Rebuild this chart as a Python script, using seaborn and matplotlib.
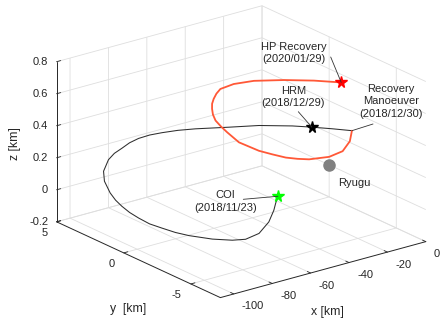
import numpy as np
import matplotlib
matplotlib.use("Agg")
import matplotlib.pyplot as plt
import seaborn as sns
from matplotlib.lines import Line2D
from mpl_toolkits.mplot3d import proj3d

# ---- trajectory data, Ryugu-centred frame [km] ----
# conjunction drift: COI -> far turn-around -> HRM -> recovery manoeuvre
drift_x = [-30.2, -34.9, -39.3, -46.8, -56.8, -66.6, -74.9, -85.3, -94.7,
           -99.3, -103.1, -104.3, -105.0, -105.6, -106.0, -106.35, -106.6,
           -106.9, -106.95, -106.9, -106.7, -106.4, -105.9, -105.2, -101.9,
           -97.5, -91.0, -83.6, -69.0, -56.1, -41.5, -33.5, -25.5, -18.2]
drift_y = [-0.5, -1.0, -1.5, -2.2, -2.9, -3.3, -3.5, -3.5, -3.1,
           -2.75, -2.3, -1.54, -0.83, -0.24, 0.28, 0.70, 1.07,
           1.45, 1.51, 1.15, 0.74, 0.22, -0.28, -0.85, -1.2,
           -1.5, -1.75, -2.0, -2.4, -2.8, -3.2, -3.5, -3.9, -4.3]
drift_z = [-0.078, -0.089, -0.097, -0.118, -0.130, -0.119, -0.090, -0.049, -0.012,
           0.009, 0.031, 0.032, 0.043, 0.057, 0.077, 0.100, 0.132,
           0.191, 0.251, 0.337, 0.392, 0.443, 0.495, 0.542, 0.566,
           0.578, 0.581, 0.576, 0.554, 0.538, 0.503, 0.481, 0.460, 0.440]

# return leg to the home position
recov_x = [-18.2, -23.0, -30.1, -37.4, -46.3, -50.6, -54.4, -58.2, -61.8, -66.9,
           -68.2, -68.4, -68.2, -67.1, -65.6, -63.7, -61.4, -58.5, -55.6, -50.0,
           -43.4, -34.1, -25.8, -19.3]
recov_y = [-4.3, -4.83, -5.31, -5.35, -5.13, -4.88, -4.55, -4.11, -3.61, -2.85,
           -2.16, -1.73, -1.29, -0.94, -0.66, -0.39, -0.18, 0.03, 0.15, -0.04,
           -0.6, -1.51, -2.56, -3.66]
recov_z = [0.44, 0.41, 0.39, 0.38, 0.385, 0.3925, 0.40, 0.415, 0.43, 0.47,
           0.51, 0.53, 0.55, 0.57, 0.59, 0.605, 0.62, 0.635, 0.65, 0.67,
           0.69, 0.70, 0.71, 0.72]

# events (index into the trajectory arrays)
coi_idx = 0                  # drift start
hrm_idx = 31                 # on the drift leg
rm_idx = len(drift_x) - 1    # end of drift leg
hp_idx = len(recov_x) - 1    # end of return leg
ryugu_xyz = (0.0, 0.0, 0.0)

x_ticks = [-100, -80, -60, -40, -20, 0]
y_ticks = [-5, 0, 5]
z_ticks = [-0.2, 0, 0.2, 0.4, 0.6, 0.8]
z_ticklabels = ["-0.2", "0", "0.2", "0.4", "0.6", "0.8"]
x_lim, y_lim, z_lim = (-107, 0), (-7.2, 5), (-0.2, 0.8)

# ---- style ----
sns.set_theme(style="white")
plt.rcParams.update({
    "font.family": ["Liberation Sans", "DejaVu Sans"],
    "axes.unicode_minus": False,
    "grid.color": "#dedede",
    "grid.linewidth": 0.6,
    "axes.edgecolor": "#262626",
    "axes.linewidth": 0.7,
    "xtick.color": "#262626",
    "ytick.color": "#262626",
    "xtick.major.width": 0.6,
    "ytick.major.width": 0.6,
})
TXT = "#262626"
FS = 8.0

W, H = 440, 321
fig = plt.figure(figsize=(W / 100, H / 100), dpi=100)
fig.patch.set_facecolor("white")
ax = fig.add_axes([0, 0, 1, 1], projection="3d", proj_type="ortho")
ax.computed_zorder = False
ax.set_xlim(*x_lim)
ax.set_ylim(*y_lim)
ax.set_zlim(*z_lim)
ax.set_box_aspect((1.512, 1.571, 1.0))
ax.view_init(elev=20.8, azim=-127.5)
ax.set_xticks(x_ticks)
ax.set_yticks(y_ticks)
ax.set_zticks(z_ticks)
for a in ("x", "y", "z"):
    ax.tick_params(axis=a, labelcolor=(1, 1, 1, 0), pad=0)
for axis in (ax.xaxis, ax.yaxis, ax.zaxis):
    axis.set_pane_color((1, 1, 1, 0))
    axis.line.set_color("#262626")
    axis.line.set_linewidth(0.7)
    axis._axinfo["tick"]["inward_factor"] = 0.0
    axis._axinfo["tick"]["outward_factor"] = 0.25
ax.grid(True)
ax.set_xlabel("")
ax.set_ylabel("")
ax.set_zlabel("")

# ---- trajectories and markers ----
ax.plot(drift_x, drift_y, drift_z, color="#2e2e2e", lw=0.75, zorder=2)
ax.plot(recov_x, recov_y, recov_z, color="#ff5837", lw=1.3, zorder=2,
        solid_joinstyle="round")
ax.plot([recov_x[hp_idx]], [recov_y[hp_idx]], [recov_z[hp_idx]], marker="*",
        ms=8.5, color="#ff0000", ls="none", zorder=4)
ax.plot([drift_x[hrm_idx]], [drift_y[hrm_idx]], [drift_z[hrm_idx]], marker="*",
        ms=8.5, color="black", ls="none", zorder=4)
ax.plot([drift_x[coi_idx]], [drift_y[coi_idx]], [drift_z[coi_idx]], marker="*",
        ms=8.5, color="#00ff00", ls="none", zorder=4)
ax.plot([ryugu_xyz[0]], [ryugu_xyz[1]], [ryugu_xyz[2]], marker="o", ms=8,
        color="#808080", ls="none", zorder=3)


def project(points):
    pts = np.asarray(points, dtype=float)
    X, Y, _ = proj3d.proj_transform(pts[:, 0], pts[:, 1], pts[:, 2], ax.get_proj())
    disp = ax.transData.transform(np.column_stack([X, Y]))
    return np.column_stack([disp[:, 0], H - disp[:, 1]])


# place the plot box on the canvas (pixel coords, y down)
box_pts = [(x_lim[0], y_lim[0], z_lim[0]), (x_lim[1], y_lim[0], z_lim[0]),
           (x_lim[0], y_lim[1], z_lim[0]), (x_lim[0], y_lim[1], z_lim[1]),
           (x_lim[1], y_lim[1], z_lim[1])]
box_px = np.array([(219.5, 297.5), (426.0, 240.5), (56.7, 223.0),
                   (56.7, 62.0), (262.5, 5.5)])
fig.canvas.draw()
bb = ax.get_position()
S0 = bb.width * W
c0 = np.array([(bb.x0 + bb.width / 2) * W, H - (bb.y0 + bb.height / 2) * H])
g = (project(box_pts) - c0) / S0
gm, tm = g.mean(0), box_px.mean(0)
S = ((g - gm) * (box_px - tm)).sum() / ((g - gm) ** 2).sum()
c = tm - S * gm
ax.set_position([(c[0] - S / 2) / W, (H - c[1] - S / 2) / H, S / W, S / H])
fig.canvas.draw()


def ftext(px, py, s, **kw):
    fig.text(px / W, 1 - py / H, s, color=TXT, **kw)


def leader(p0, p1):
    fig.add_artist(Line2D([p0[0] / W, p1[0] / W], [1 - p0[1] / H, 1 - p1[1] / H],
                          transform=fig.transFigure, color="#333333", lw=0.6))


# tick labels
for v in x_ticks:
    px, py = project([(v, y_lim[0], z_lim[0])])[0]
    ftext(px + 8, py + 12.5, str(v), ha="left", va="center", fontsize=FS)
for v in y_ticks:
    px, py = project([(x_lim[0], v, z_lim[0])])[0]
    ftext(px - 9, py + 11.5, str(v), ha="right", va="center", fontsize=FS)
for v, s in zip(z_ticks, z_ticklabels):
    px, py = project([(x_lim[0], y_lim[1], v)])[0]
    ftext(px - 8.4, py, s, ha="right", va="center", fontsize=FS)

# axis titles
ftext(327.3, 312.5, "x [km]", ha="center", va="center", fontsize=8.8)
ftext(128.3, 309.0, "y  [km]", ha="center", va="center", fontsize=8.8)
ftext(15.0, 143.3, "z [km]", ha="center", va="center", fontsize=8.8, rotation=90)

# event annotations
hp_px = project([(recov_x[hp_idx], recov_y[hp_idx], recov_z[hp_idx])])[0]
hrm_px = project([(drift_x[hrm_idx], drift_y[hrm_idx], drift_z[hrm_idx])])[0]
rm_px = project([(drift_x[rm_idx], drift_y[rm_idx], drift_z[rm_idx])])[0]
coi_px = project([(drift_x[coi_idx], drift_y[coi_idx], drift_z[coi_idx])])[0]

ftext(294.0, 53.0, "HP Recovery\n(2020/01/29)", ha="center", va="center",
      fontsize=FS, linespacing=1.35)
leader((330.7, 57.0), hp_px)
ftext(293.5, 96.8, "HRM\n(2018/12/29)", ha="center", va="center",
      fontsize=FS, linespacing=1.3)
leader((298.3, 111.7), hrm_px)
ftext(391.0, 101.5, "Recovery\nManoeuver\n(2018/12/30)", ha="center",
      va="center", fontsize=FS, linespacing=1.3)
leader((373.0, 124.0), rm_px)
ftext(225.5, 201.3, "COI\n(2018/11/23)", ha="center", va="center",
      fontsize=FS, linespacing=1.3)
leader((243.3, 199.3), coi_px)
ftext(354.5, 183.0, "Ryugu", ha="center", va="center", fontsize=FS)

fig.savefig("out.png", dpi=100, facecolor="white")
